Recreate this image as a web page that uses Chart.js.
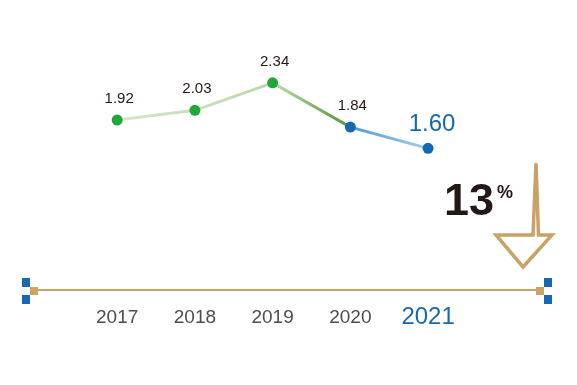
<!DOCTYPE html>
<html>
<head>
<meta charset="utf-8">
<script src="https://cdn.jsdelivr.net/npm/chart.js@4.4.0/dist/chart.umd.min.js"></script>
<style>
  html, body { margin: 0; padding: 0; background: #fff; }
  #wrap { width: 577px; height: 385px; position: relative; }
</style>
</head>
<body>
<div id="wrap"><canvas id="chart"></canvas></div>
<script>
const years = [2017, 2018, 2019, 2020, 2021];
const values = [1.92, 2.03, 2.34, 1.84, 1.60];
const valueLabels = ["1.92", "2.03", "2.34", "1.84", "1.60"];
const dropValue = "13";
const dropUnit = "%";

const GOLD = "#c9a265";
const BLUE = "#1768b3";
const GREEN = "#22a639";
const FONT = "'Liberation Sans', Arial, sans-serif";

// gradient along the line, green fading into blue at 2020
const lineGradient = (context) => {
  const chart = context.chart;
  const { ctx, chartArea, scales } = chart;
  if (!chartArea) return "#b9d7a6";
  const x0 = scales.x.getPixelForValue(years[0]);
  const x1 = scales.x.getPixelForValue(years[years.length - 1]);
  const at = (v) => (scales.x.getPixelForValue(v) - x0) / (x1 - x0);
  const g = ctx.createLinearGradient(x0, 0, x1, 0);
  g.addColorStop(0, "#d5e6cc");
  g.addColorStop(at(2018), "#c8deba");
  g.addColorStop(at(2019), "#bcd8aa");
  g.addColorStop(at(2019.9), "#5f9b47");
  g.addColorStop(at(2020), "#4f9cd6");
  g.addColorStop(1, "#a2cdef");
  return g;
};

const valueLabelPlugin = {
  id: "valueLabels",
  afterDatasetsDraw(chart) {
    const { ctx } = chart;
    const meta = chart.getDatasetMeta(0);
    ctx.save();
    ctx.textAlign = "center";
    ctx.textBaseline = "middle";
    meta.data.forEach((pt, i) => {
      const last = i === meta.data.length - 1;
      ctx.fillStyle = last ? BLUE : "#231815";
      ctx.font = (last ? "24px " : "15px ") + FONT;
      ctx.fillText(valueLabels[i], pt.x + (last ? 4 : 2), pt.y - (last ? 24 : 21));
    });
    ctx.restore();
  },
};

const decorPlugin = {
  id: "decor",
  afterDraw(chart) {
    const { ctx, chartArea } = chart;
    const { left, right, bottom } = chartArea;
    const y = bottom + 1;
    ctx.save();
    // end caps of the axis
    [left, right].forEach((x, k) => {
      ctx.fillStyle = GOLD;
      ctx.fillRect(x - 4, y - 4, 8, 8);
      const bx = k === 0 ? x - 12 : x + 4;
      ctx.fillStyle = BLUE;
      ctx.fillRect(bx, y - 13, 8, 9);
      ctx.fillRect(bx, y + 4, 8, 9);
    });
    // down arrow
    ctx.strokeStyle = GOLD;
    ctx.lineWidth = 3.5;
    ctx.lineJoin = "miter";
    ctx.beginPath();
    ctx.moveTo(right - 4, bottom - 127);
    ctx.lineTo(right - 1.5, bottom - 55);
    ctx.lineTo(right + 12, bottom - 55);
    ctx.lineTo(right - 17, bottom - 23);
    ctx.lineTo(right - 44, bottom - 55);
    ctx.lineTo(right - 7, bottom - 55);
    ctx.closePath();
    ctx.stroke();
    // 13%
    ctx.fillStyle = "#231815";
    ctx.textBaseline = "alphabetic";
    ctx.textAlign = "left";
    ctx.font = "bold 45px " + FONT;
    ctx.fillText(dropValue, 444, 215);
    ctx.font = "bold 18px " + FONT;
    ctx.fillText(dropUnit, 497, 198);
    ctx.restore();
  },
};

new Chart(document.getElementById("chart"), {
  type: "line",
  data: {
    datasets: [
      {
        data: years.map((y, i) => ({ x: y, y: values[i] })),
        borderColor: lineGradient,
        borderWidth: 3,
        tension: 0,
        pointRadius: 5.5,
        pointBorderWidth: 0,
        pointBackgroundColor: (c) => (c.dataIndex < 3 ? GREEN : BLUE),
      },
    ],
  },
  options: {
    responsive: true,
    maintainAspectRatio: false,
    animation: false,
    layout: { padding: { left: 34, right: 37, top: 20, bottom: 0 } },
    plugins: { legend: { display: false }, tooltip: { enabled: false } },
    scales: {
      x: {
        type: "linear",
        min: 2015.93,
        max: 2022.44,
        afterBuildTicks: (scale) => {
          scale.ticks = years.map((v) => ({ value: v }));
        },
        afterFit: (scale) => {
          scale.height = 95;
        },
        grid: { display: true, drawOnChartArea: false, drawTicks: false, color: "rgba(0,0,0,0)" },
        border: { display: true, color: GOLD, width: 2 },
        ticks: {
          padding: 16,
          autoSkip: false,
          maxRotation: 0,
          callback: (v) => String(v),
          color: (c) => (c.tick && c.tick.value === 2021 ? BLUE : "#4d4d4d"),
          font: (c) =>
            c.tick && c.tick.value === 2021
              ? { family: FONT, size: 24, lineHeight: 0.95 }
              : { family: FONT, size: 19, lineHeight: 1.2 },
        },
      },
      y: { display: false, min: 0, max: 3.05 },
    },
  },
  plugins: [valueLabelPlugin, decorPlugin],
});
</script>
</body>
</html>
